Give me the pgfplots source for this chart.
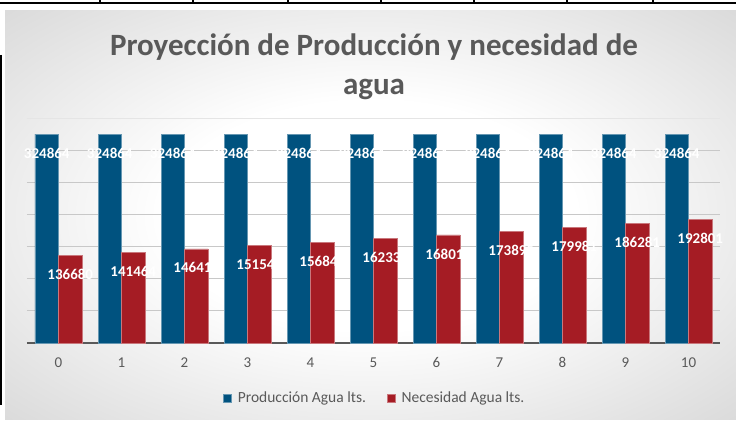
\documentclass[border=0pt]{standalone}
\usepackage{pgfplots}
\pgfplotsset{compat=1.18}
\usepackage{fontspec}
\setmainfont{Carlito}
\definecolor{prodblue}{HTML}{00527F}
\definecolor{necred}{HTML}{A51C24}
\definecolor{txtgray}{HTML}{595959}
\definecolor{gridgray}{HTML}{C8C8C8}
\pgfdeclareradialshading{bgshade}{\pgfpoint{0bp}{0bp}}{color(0bp)=(white); color(14bp)=(white); color(50bp)=(black!24)}
\pgfplotstableread{
x prod nec
0 324864 136680
1 324864 141464
2 324864 146415
3 324864 151540
4 324864 156844
5 324864 162333
6 324864 168015
7 324864 173895
8 324864 179981
9 324864 186281
10 324864 192801
}\datatable
\begin{document}
\begin{tikzpicture}
\path[use as bounding box] (0pt,0pt) rectangle (736pt,422pt);
\fill[white] (0pt,0pt) rectangle (736pt,422pt);
\shade[shading=bgshade] (5pt,2pt) rectangle (736pt,411pt);
% screenshot table borders
\draw[black, line width=1.5pt] (0pt,419pt) -- (736pt,419pt);
\foreach \xx in {100,193,288,381,474,567,653} {\draw[black, line width=1.2pt] (\xx pt,419pt) -- (\xx pt,422pt);}
\draw[black, line width=1.5pt] (1pt,367pt) -- (1pt,17pt);
\node[font=\bfseries\fontsize{31}{39}\selectfont, text=txtgray, align=center] at (374pt,355pt)
  {Proyección de Producción y necesidad de\\agua};
\begin{axis}[
  at={(27pt,79pt)}, anchor=south west,
  scale only axis, width=693pt, height=225pt,
  /pgf/number format/assume math mode=true,
  ybar=0pt, bar width=23.5pt,
  xmin=-0.5, xmax=10.5, ymin=0, ymax=350000,
  scaled y ticks=false,
  xtick={0,...,10}, xticklabel style={font=\fontsize{15}{17}\selectfont, text=txtgray, yshift=-11pt},
  ytick={0,50000,...,300000}, yticklabels={},
  ymajorgrids, grid style={gridgray, line width=0.9pt},
  extra y ticks={350000}, extra y tick labels={},
  extra y tick style={grid style={black!10, line width=0.8pt}},
  axis x line*=bottom, axis y line*=left,
  y axis line style={draw=none},
  x axis line style={txtgray, line width=2pt, -},
  major tick length=0pt,
  nodes near coords={\pgfmathprintnumber[fixed,precision=0,1000 sep={},assume math mode=true]{\pgfplotspointmeta}},
  nodes near coords style={anchor=center, yshift=-19pt, text=white, font=\bfseries\fontsize{15}{17}\selectfont},
  legend style={at={(0.502,-0.246)}, anchor=center, draw=none, fill=none,
    legend columns=2, font=\fontsize{15.5}{18}\selectfont, text=txtgray,
    /tikz/every odd column/.append style={column sep=4pt},
    /tikz/every even column/.append style={column sep=19pt}},
  legend image code/.code={\fill[#1] (0pt,-4pt) rectangle (8pt,4pt);},
  clip=false,
]
\addplot[fill=prodblue, draw=prodblue!60!white, line width=0.5pt] table[x=x,y=prod] {\datatable};
\addplot[fill=necred, draw=necred!60!white, line width=0.5pt] table[x=x,y=nec] {\datatable};
\legend{Producción Agua lts.,Necesidad Agua lts.}
\end{axis}
\end{tikzpicture}
\end{document}
